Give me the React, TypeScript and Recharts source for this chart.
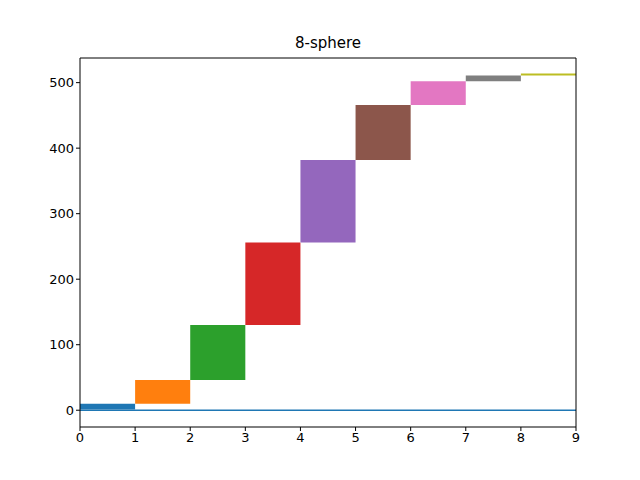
import React from 'react';
import { ComposedChart, Bar, Cell, XAxis, YAxis, ReferenceLine } from 'recharts';

const centers = [0.5, 1.5, 2.5, 3.5, 4.5, 5.5, 6.5, 7.5, 8.5];
const lows = [1, 10, 46, 130, 256, 382, 466, 502, 511];
const highs = [10, 46, 130, 256, 382, 466, 502, 511, 512];
const colors = ['#1f77b4', '#ff7f0e', '#2ca02c', '#d62728', '#9467bd', '#8c564b', '#e377c2', '#7f7f7f', '#bcbd22'];
const xTicks = [0, 1, 2, 3, 4, 5, 6, 7, 8, 9];
const yTicks = [0, 100, 200, 300, 400, 500];

const data = centers.map((x, i) => ({ x, range: [lows[i], highs[i]] }));

const Y_MIN = -25.6;
const Y_MAX = 537.6;
const tick = { fill: '#000', fontSize: 13 };

export default function App() {
  return (
    <div style={{ position: 'absolute', left: 0, top: 0, width: 640, height: 480, background: '#fff', fontFamily: 'DejaVu Sans' }}>
      <div style={{ position: 'absolute', top: 34, left: 80, width: 496, textAlign: 'center', fontSize: 15 }}>8-sphere</div>
      <ComposedChart width={640} height={480} data={data} margin={{ top: 58, right: 64, bottom: 23, left: 0 }}>
        <XAxis dataKey="x" type="number" domain={[0, 9]} ticks={xTicks} tick={tick} stroke="#000" tickSize={4} height={30} allowDataOverflow />
        <YAxis type="number" domain={[Y_MIN, Y_MAX]} ticks={yTicks} tick={tick} stroke="#000" width={80} tickSize={4} allowDataOverflow />
        <Bar dataKey="range" barSize={55.1} isAnimationActive={false} minPointSize={2}>
          {data.map((d, i) => (
            <Cell key={i} fill={colors[i]} />
          ))}
        </Bar>
        <ReferenceLine y={0} stroke="#1f77b4" strokeWidth={1.5} />
        <ReferenceLine y={Y_MAX} stroke="#000" />
        <ReferenceLine x={9} stroke="#000" />
      </ComposedChart>
    </div>
  );
}
